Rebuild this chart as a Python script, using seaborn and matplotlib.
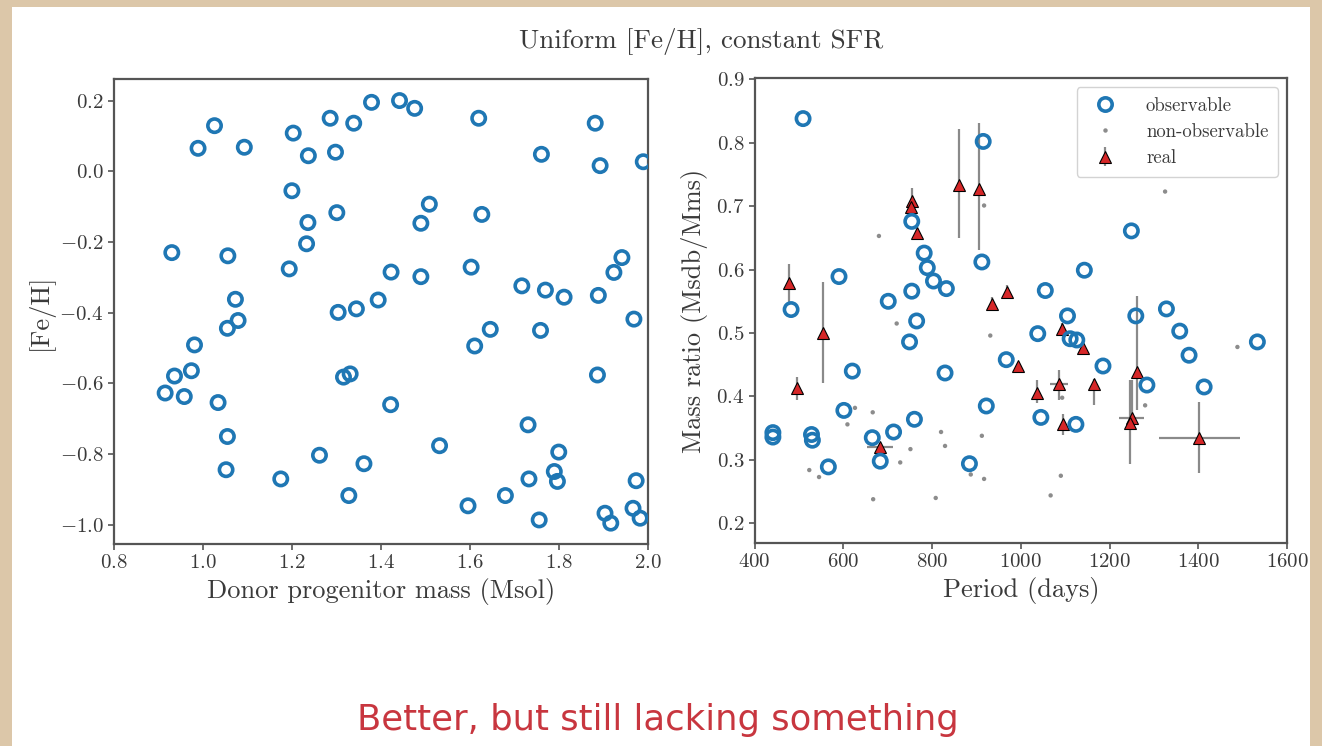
import matplotlib
matplotlib.use("Agg")
import matplotlib.pyplot as plt
from matplotlib.lines import Line2D
from matplotlib.patches import Rectangle
import seaborn as sns
import numpy as np

# ---------------- data ----------------
donor_mass = [0.989, 1.026, 1.093, 1.203, 1.286, 1.339, 1.379, 1.442, 1.476, 1.620,
              1.882, 1.237, 1.298, 1.761, 1.893, 1.990, 1.200, 1.509, 1.301, 1.627,
              1.236, 1.490, 1.233, 0.930, 1.056, 1.942, 1.194, 1.423, 1.603, 1.490,
              1.924, 1.717, 1.770, 1.812, 1.889, 1.073, 1.394, 1.304, 1.345, 1.079,
              1.055, 1.969, 1.646, 1.759, 0.981, 1.611, 0.936, 0.974, 0.915, 0.958,
              1.034, 1.316, 1.331, 1.887, 1.422, 1.731, 1.055, 1.532, 1.262, 1.362,
              1.800, 1.790, 1.797, 1.733, 1.974, 1.052, 1.175, 1.328, 1.680, 1.596,
              1.967, 1.904, 1.917, 1.756, 1.983]
feh = [0.065, 0.129, 0.068, 0.108, 0.150, 0.136, 0.195, 0.200, 0.178, 0.150,
       0.136, 0.044, 0.054, 0.048, 0.016, 0.027, -0.055, -0.093, -0.117, -0.122,
       -0.145, -0.147, -0.205, -0.230, -0.239, -0.244, -0.276, -0.285, -0.271, -0.298,
       -0.286, -0.324, -0.336, -0.356, -0.351, -0.362, -0.364, -0.399, -0.389, -0.422,
       -0.444, -0.418, -0.447, -0.450, -0.491, -0.494, -0.579, -0.564, -0.627, -0.637,
       -0.654, -0.582, -0.573, -0.576, -0.660, -0.717, -0.750, -0.776, -0.803, -0.827,
       -0.794, -0.849, -0.877, -0.870, -0.875, -0.844, -0.870, -0.917, -0.917, -0.946,
       -0.953, -0.967, -0.995, -0.986, -0.981]

obs_period = [509, 915, 754, 782, 789, 803, 832, 754, 912, 590, 482, 701, 765, 749,
              1249, 1143, 1055, 1105, 1259, 1328, 1358, 1038, 1111, 1126, 1379, 1533,
              441, 441, 528, 530, 566, 601, 620, 665, 683, 713, 760, 829, 884, 922,
              967, 1045, 1124, 1185, 1284, 1413]
obs_q = [0.838, 0.802, 0.676, 0.626, 0.603, 0.582, 0.570, 0.566, 0.612, 0.589, 0.537,
         0.550, 0.519, 0.486, 0.661, 0.599, 0.567, 0.527, 0.527, 0.538, 0.503, 0.499,
         0.491, 0.489, 0.465, 0.486, 0.343, 0.336, 0.340, 0.331, 0.289, 0.378, 0.440,
         0.335, 0.298, 0.344, 0.364, 0.437, 0.294, 0.385, 0.458, 0.367, 0.356, 0.448,
         0.418, 0.415]

nonobs_period = [680, 917, 720, 931, 1325, 1488, 523, 545, 626, 609, 666, 667, 728,
                 751, 820, 829, 808, 887, 912, 917, 1067, 1090, 1093, 1280]
nonobs_q = [0.653, 0.701, 0.515, 0.496, 0.723, 0.478, 0.284, 0.273, 0.382, 0.356,
            0.375, 0.238, 0.296, 0.317, 0.344, 0.322, 0.240, 0.277, 0.338, 0.270,
            0.244, 0.275, 0.398, 0.386]

real_period = [478, 553, 496, 755, 752, 766, 860, 905, 935, 968, 993, 682, 1036, 1086,
               1092, 1139, 1165, 1096, 1262, 1250, 1246, 1402]
real_q = [0.579, 0.500, 0.413, 0.708, 0.698, 0.657, 0.733, 0.727, 0.546, 0.565, 0.448,
          0.320, 0.405, 0.419, 0.506, 0.477, 0.419, 0.356, 0.438, 0.366, 0.358, 0.335]
real_q_err_lo = [0.03, 0.078, 0.019, 0.02, 0.01, 0.01, 0.084, 0.096, 0.01, 0.01, 0.005,
                 0.005, 0.016, 0.025, 0.01, 0.005, 0.033, 0.017, 0.06, 0.01, 0.064, 0.055]
real_q_err_hi = [0.03, 0.08, 0.018, 0.02, 0.01, 0.01, 0.088, 0.104, 0.01, 0.01, 0.005,
                 0.005, 0.021, 0.022, 0.01, 0.005, 0.009, 0.017, 0.12, 0.06, 0.068, 0.056]
real_p_err = [0, 0, 0, 0, 0, 0, 0, 0, 0, 0, 0, 30, 0, 21, 0, 0, 0, 0, 0, 28, 0, 91]

left_xticks = [0.8, 1.0, 1.2, 1.4, 1.6, 1.8, 2.0]
left_yticks = [-1.0, -0.8, -0.6, -0.4, -0.2, 0.0, 0.2]
right_xticks = [400, 600, 800, 1000, 1200, 1400, 1600]
right_yticks = [0.2, 0.3, 0.4, 0.5, 0.6, 0.7, 0.8, 0.9]

# ---------------- style ----------------
sns.set_style("ticks")
plt.rcParams["font.family"] = ["cmr10", "DejaVu Serif"]
plt.rcParams["mathtext.fontset"] = "cm"
plt.rcParams["axes.formatter.use_mathtext"] = True
plt.rcParams["axes.unicode_minus"] = True

BLUE = "#1f77b4"
TXT = "#3a3a3a"
SPINE = "#555555"

fig = plt.figure(figsize=(13.22, 7.46), dpi=100, facecolor="#dcc7a9")
fig.patches.append(Rectangle((12 / 1322, 0), (1310 - 12) / 1322, (746 - 7) / 746,
                             transform=fig.transFigure, facecolor="white",
                             edgecolor="none", zorder=-5))

ax1 = fig.add_axes([114 / 1322, (746 - 544) / 746, 533.7 / 1322, 465 / 746])
ax2 = fig.add_axes([754.7 / 1322, (746 - 543) / 746, 532.4 / 1322, 465 / 746])

circ_kw = dict(marker="o", s=92, facecolors="none", edgecolor=BLUE, linewidth=2.6)

# left panel
sns.scatterplot(x=donor_mass, y=feh, ax=ax1, zorder=3, **circ_kw)
ax1.set_xlim(0.8, 2.0)
ax1.set_ylim(-1.054, 0.261)
ax1.set_xticks(left_xticks)
ax1.set_yticks(left_yticks)
ax1.set_xlabel("Donor progenitor mass (Msol)", fontsize=19, color=TXT, labelpad=4)
ax1.set_ylabel("[Fe/H]", fontsize=19, color=TXT, labelpad=4)

# right panel
eb = ax2.errorbar(real_period, real_q, yerr=[real_q_err_lo, real_q_err_hi], fmt="^",
                  ms=8.5, mfc="#d62728", mec="black", mew=0.8, ecolor="#8a8a8a",
                  elinewidth=1.6, capsize=0, zorder=2, label="real")
ax2.errorbar(real_period, real_q, xerr=real_p_err, fmt="none", ecolor="#8a8a8a",
             elinewidth=1.6, capsize=0, zorder=1.9)
sns.scatterplot(x=nonobs_period, y=nonobs_q, ax=ax2, marker="o", s=10,
                color="#8c8c8c", edgecolor="none", zorder=2.5)
sns.scatterplot(x=obs_period, y=obs_q, ax=ax2, zorder=3, **circ_kw)
ax2.set_xlim(400, 1600)
ax2.set_ylim(0.169, 0.902)
ax2.set_xticks(right_xticks)
ax2.set_yticks(right_yticks)
ax2.set_xlabel("Period (days)", fontsize=19, color=TXT, labelpad=4)
ax2.set_ylabel("Mass ratio (Msdb/Mms)", fontsize=19, color=TXT, labelpad=6)

h_obs = Line2D([], [], marker="o", ls="", ms=9.6, mfc="none", mec=BLUE, mew=2.6)
h_non = Line2D([], [], marker="o", ls="", ms=3.2, mfc="#8c8c8c", mec="none")
leg = ax2.legend([h_obs, h_non, eb], ["observable", "non-observable", "real"],
                 loc="upper right", fontsize=13.5, frameon=True, fancybox=True,
                 framealpha=0.85, edgecolor="#cccccc", labelspacing=0.45,
                 handletextpad=1.2, borderpad=0.5)
for t in leg.get_texts():
    t.set_color(TXT)

for ax in (ax1, ax2):
    for sp in ax.spines.values():
        sp.set_visible(True)
        sp.set_color(SPINE)
        sp.set_linewidth(1.6)
    ax.tick_params(direction="out", length=4, width=1.2, color=SPINE,
                   labelsize=15, labelcolor=TXT)
    ax.set_facecolor("white")

fig.text(0.53, 0.944, "Uniform [Fe/H], constant SFR", ha="center", va="center",
         fontsize=19.5, color=TXT)
fig.text(0.498, 0.035, "Better, but still lacking something", ha="center", va="center",
         fontsize=25.5, color="#c8363f", family=["DejaVu Sans"])

fig.savefig("out.png", dpi=100, facecolor=fig.get_facecolor())
